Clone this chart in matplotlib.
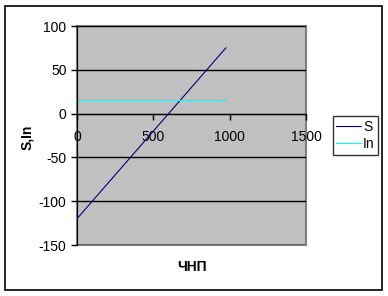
import matplotlib.pyplot as plt
from matplotlib.patches import Rectangle

plt.rcParams['font.family'] = ['Liberation Sans', 'DejaVu Sans']
plt.rcParams['axes.unicode_minus'] = False

# data
chnp = [5, 100, 200, 300, 400, 500, 600, 700, 800, 900, 975]
s_vals = [-119, -100, -80, -60, -40, -20, 0, 20, 40, 60, 75]
in_vals = [15, 15, 15, 15, 15, 15, 15, 15, 15, 15, 15]
x_ticks = [0, 500, 1000, 1500]
y_ticks = [-150, -100, -50, 0, 50, 100]

W, H = 388, 296
fig = plt.figure(figsize=(W / 100, H / 100), dpi=100)
fig.patches.append(Rectangle((5 / W, 6 / H), 377 / W, 284 / H, transform=fig.transFigure,
                             fill=False, edgecolor='black', linewidth=1.2))

ax = fig.add_axes([77 / W, 1 - 245 / H, 229 / W, 219 / H])
ax.set_facecolor('#C0C0C0')
ax.set_xlim(0, 1500)
ax.set_ylim(-150, 100)
ax.set_xticks(x_ticks)
ax.set_yticks(y_ticks)

ax.yaxis.grid(True, color='black', linewidth=1)
ax.set_axisbelow(True)

for side in ('top', 'right'):
    ax.spines[side].set_visible(False)
ax.spines['bottom'].set_position(('data', 0))
ax.spines['bottom'].set_color('black')
ax.spines['left'].set_color('black')
ax.add_patch(Rectangle((0, 0), 1, 1, transform=ax.transAxes, fill=False,
                       edgecolor='#808080', linewidth=1.5, zorder=0.5, clip_on=False))

ax.tick_params(axis='both', labelsize=10, length=4, width=1, color='black')
ax.tick_params(axis='x', pad=8)

ln_s, = ax.plot(chnp, s_vals, color='#000080', linewidth=0.8, label='S')
ln_in, = ax.plot(chnp, in_vals, color='#00FFFF', linewidth=0.8, label='In')

fig.text(27 / W, 1 - 137 / H, 'S,In', rotation=90, ha='center', va='center',
         fontsize=10, fontweight='bold')
fig.text(192 / W, 1 - 267 / H, 'ЧНП', ha='center', va='center',
         fontsize=10, fontweight='bold')

leg = fig.legend(handles=[ln_s, ln_in], loc='center', fontsize=10,
                 bbox_to_anchor=(355.5 / W, 1 - 135.5 / H), frameon=True, fancybox=False,
                 handlelength=1.8, handletextpad=0.15, borderpad=0.25, labelspacing=0.25,
                 borderaxespad=0)
leg.get_frame().set_edgecolor('black')
leg.get_frame().set_linewidth(1)

fig.savefig('out.png', dpi=100)
